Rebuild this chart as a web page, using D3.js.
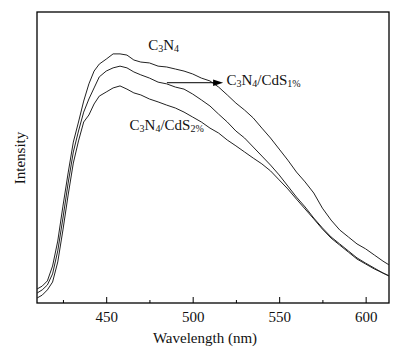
<!DOCTYPE html>
<html>
<head>
<meta charset="utf-8">
<script src="https://cdn.jsdelivr.net/npm/d3@7"></script>
<style>
  body { margin: 0; background: #fff; }
  text { font-family: "Liberation Serif", "DejaVu Serif", serif; fill: #111; }
  .axis path, .axis line { stroke: #000; }
</style>
</head>
<body>
<svg id="chart"></svg>
<script>
// wavelength grid (nm)
const wavelengths = [410, 413, 416, 419, 422, 425, 428, 431, 434, 437, 440, 443, 446, 450, 454, 458, 462, 466, 470, 475,
  480, 485, 490, 495, 500, 505, 510, 515, 520, 525, 530, 535, 540, 545, 550, 555, 560, 565, 570, 575,
  580, 585, 590, 595, 600, 605, 610, 613.5];

// intensities (a.u.)
const c3n4 = [4.8, 5.8, 7.6, 12.7, 21.3, 33.3, 44.7, 55.3, 62.2, 69.4, 75.3, 79.7, 82.1, 83.8, 85.6, 85.6, 85.2, 83.5, 82.8, 82.5,
  81.4, 81.1, 80.4, 79.7, 78.7, 77.3, 76.3, 74.2, 71.5, 68.7, 66.3, 63.6, 60.1, 56.7, 52.9, 49.1, 45.0, 41.6, 37.8, 32.6,
  28.5, 25.1, 22.7, 20.3, 18.6, 16.5, 14.4, 13.1];
const cds1 = [3.4, 4.5, 6.2, 10.0, 17.9, 29.2, 41.2, 51.9, 59.1, 65.6, 70.1, 73.9, 77.7, 79.7, 80.8, 81.4, 80.8, 79.4, 78.4, 77.3,
  75.9, 75.3, 74.2, 73.5, 71.8, 69.8, 67.7, 64.9, 62.2, 59.1, 56.7, 53.6, 50.5, 47.4, 44.0, 40.2, 36.4, 33.0, 29.2, 25.8,
  22.7, 20.3, 17.9, 15.5, 13.7, 12.0, 10.3, 9.3];
const cds2 = [1.7, 2.7, 4.5, 7.2, 14.1, 25.1, 37.1, 48.1, 55.7, 62.2, 64.6, 68.4, 71.1, 72.5, 73.9, 74.6, 73.5, 72.2, 71.5, 70.1,
  69.1, 68.0, 67.0, 65.6, 63.9, 62.2, 60.1, 58.4, 56.0, 54.0, 51.9, 49.8, 47.8, 45.4, 42.3, 39.2, 35.7, 32.3, 28.9, 25.4,
  22.3, 19.9, 17.5, 15.1, 13.4, 11.7, 10.3, 9.3];

const majorTicks = [450, 500, 550, 600];
const minorTicks = [425, 475, 525, 575];

const width = 405, height = 351;
const margin = { top: 12, right: 16, bottom: 48, left: 37 };
const innerW = width - margin.left - margin.right;
const innerH = height - margin.top - margin.bottom;

const svg = d3.select("#chart")
  .attr("width", width)
  .attr("height", height);

const chart = svg.append("g")
  .attr("transform", `translate(${margin.left},${margin.top})`);

const xScale = d3.scaleLinear().domain([410, 613.5]).range([0, innerW]);
const yScale = d3.scaleLinear().domain([0, 100]).range([innerH, 0]);

// ticks point inwards
chart.append("g")
  .attr("class", "axis x-axis")
  .attr("transform", `translate(0,${innerH})`)
  .call(d3.axisBottom(xScale).tickValues(majorTicks).tickSizeInner(-6).tickSizeOuter(0).tickPadding(8))
  .call(g => g.select(".domain").remove())
  .selectAll("text")
    .attr("font-size", "15px")
    .attr("font-family", "Liberation Serif, serif");

chart.append("g")
  .attr("class", "axis x-minor")
  .attr("transform", `translate(0,${innerH})`)
  .call(d3.axisBottom(xScale).tickValues(minorTicks).tickSizeInner(-3).tickSizeOuter(0).tickFormat(""))
  .call(g => g.select(".domain").remove());

// frame
chart.append("rect")
  .attr("width", innerW)
  .attr("height", innerH)
  .attr("fill", "none")
  .attr("stroke", "#000")
  .attr("stroke-width", 1.3);

const line = d3.line()
  .x(d => xScale(d[0]))
  .y(d => yScale(d[1]));

[c3n4, cds1, cds2].forEach(series => {
  chart.append("path")
    .datum(wavelengths.map((w, i) => [w, series[i]]))
    .attr("fill", "none")
    .attr("stroke", "#222")
    .attr("stroke-width", 1)
    .attr("d", line);
});

// labels with subscripts
function label(x, y, parts) {
  const t = chart.append("text")
    .attr("x", xScale(x))
    .attr("y", yScale(y))
    .attr("font-size", "15px");
  let down = false;
  parts.forEach(p => {
    const sub = p[1];
    const ts = t.append("tspan").text(p[0]);
    if (sub && !down) { ts.attr("font-size", "10px").attr("dy", "2"); down = true; }
    else if (!sub && down) { ts.attr("dy", "-2"); down = false; }
  });
}

label(474.3, 86.9, [["C"], ["3", 1], ["N"], ["4", 1]]);
label(519.5, 74.9, [["C"], ["3", 1], ["N"], ["4", 1], ["/CdS"], ["1%", 1]]);
label(463.5, 59.5, [["C"], ["3", 1], ["N"], ["4", 1], ["/CdS"], ["2%", 1]]);

// arrow toward the CdS 1% label
const arrowY = yScale(75.7);
const ax0 = xScale(485.1), ax1 = xScale(517.6);
chart.append("line")
  .attr("x1", ax0).attr("x2", ax1 - 9)
  .attr("y1", arrowY).attr("y2", arrowY)
  .attr("stroke", "#000").attr("stroke-width", 1);
chart.append("path")
  .attr("d", `M${ax1},${arrowY} L${ax1 - 10},${arrowY - 3.2} L${ax1 - 10},${arrowY + 3.2} Z`)
  .attr("fill", "#000");

// axis titles
svg.append("text")
  .attr("x", 205)
  .attr("y", 343)
  .attr("text-anchor", "middle")
  .attr("font-size", "15px")
  .text("Wavelength (nm)");

svg.append("text")
  .attr("transform", "translate(25,158) rotate(-90)")
  .attr("text-anchor", "middle")
  .attr("font-size", "15px")
  .text("Intensity");
</script>
</body>
</html>
